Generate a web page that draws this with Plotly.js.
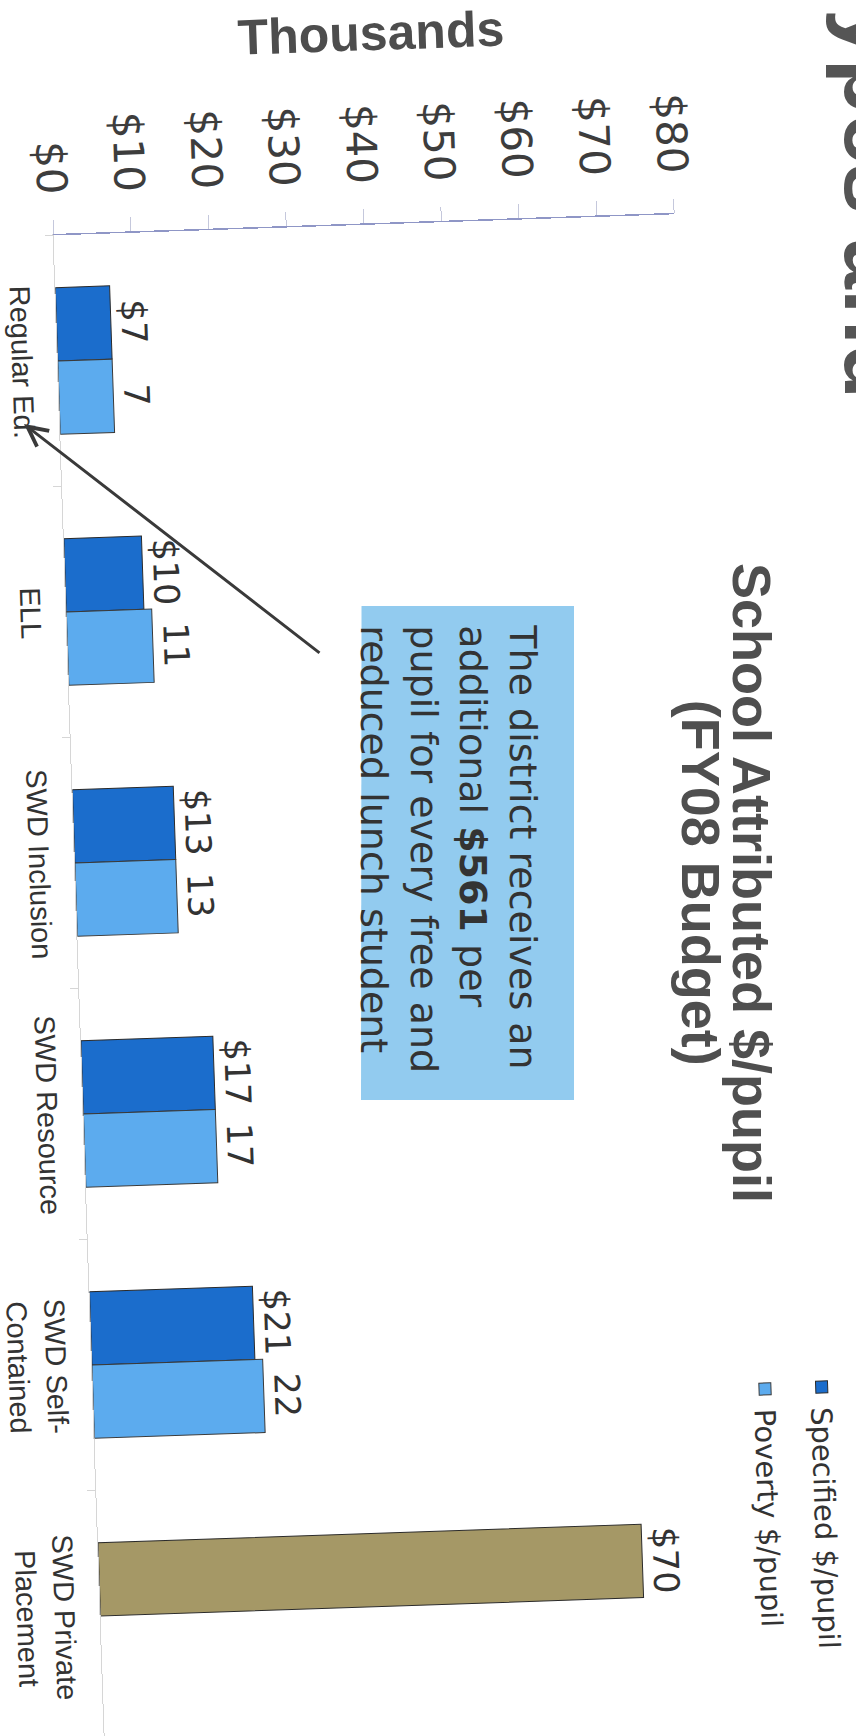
<!DOCTYPE html>
<html>
<head>
<meta charset="utf-8">
<script src="https://cdn.plot.ly/plotly-3.0.1.min.js"></script>
<style>
html, body { margin:0; padding:0; background:#ffffff; overflow:hidden; width:856px; height:1736px; }
#wrap { position:absolute; left:0; top:0; width:1800px; height:940px; transform-origin:0 0; }
</style>
</head>
<body>
<div id="wrap"><div id="chart" style="width:1800px;height:940px;"></div></div>
<script>
// ---- data ----
const categories = ['Regular Ed.', 'ELL', 'SWD Inclusion', 'SWD Resource', 'SWD Self-<br>Contained', 'SWD Private<br>Placement'];
const specified = [7, 10, 13, 17, 21, 70];
const poverty = [7, 11, 13, 17, 22, null];
const seriesNames = ['Specified $/pupil', 'Poverty $/pupil'];
const yTickVals = [0, 10, 20, 30, 40, 50, 60, 70, 80];
const yTickText = ['$0', '$10', '$20', '$30', '$40', '$50', '$60', '$70', '$80'];
const chartTitle = 'School Attributed $/pupil';
const chartSubtitle = '(FY08 Budget)';
const unitLabel = 'Thousands';
const noteText = 'The district receives an<br>additional <b>$561</b> per<br>pupil for every free and<br>reduced lunch student';
const slideTitle = 'Types and';

// ---- styles ----
const DARK = '#1b6dcc', LIGHT = '#5cabee', KHAKI = '#a59866';
const specColors = categories.map((c, i) => i === categories.length - 1 ? KHAKI : DARK);
const specLabels = specified.map(v => v == null ? '' : '$' + v);
const povLabels = poverty.map(v => v == null ? '' : String(v));
const UNTILT = 1.95; // slide objects were not skewed like the chart in the scan

const traces = [
  {
    type: 'bar', x: categories, y: specified, name: seriesNames[0], legendgroup: 'a',
    marker: { color: specColors, line: { color: '#2b2b2b', width: 1 } },
    text: specLabels, texttemplate: '%{text}', textposition: 'outside', textangle: 0, constraintext: 'none',
    cliponaxis: false, textfont: { family: 'DejaVu Sans', size: 35, color: '#333333' }
  },
  {
    type: 'bar', x: categories, y: poverty, name: seriesNames[1], legendgroup: 'b',
    marker: { color: LIGHT, line: { color: '#3a3a3a', width: 1 } },
    text: povLabels, texttemplate: '%{text}', textposition: 'outside', textangle: 0, constraintext: 'none',
    cliponaxis: false, textfont: { family: 'DejaVu Sans', size: 35, color: '#333333' }
  }
];

const layout = {
  width: 1800, height: 940, autosize: false,
  margin: { l: 260, r: 33, t: 199, b: 120, pad: 0 },
  paper_bgcolor: '#ffffff', plot_bgcolor: '#ffffff',
  font: { family: 'DejaVu Sans', color: '#333333' },
  barmode: 'group', bargap: 0.416, bargroupgap: 0,
  xaxis: {
    type: 'category', showline: true, linecolor: '#d6d6d6', linewidth: 1,
    ticks: 'outside', tickson: 'boundaries', ticklen: 8, tickcolor: '#d6d6d6',
    tickfont: { family: 'Liberation Sans', size: 29, color: '#333333' },
    ticklabelstandoff: 10, showgrid: false, zeroline: false, fixedrange: true
  },
  yaxis: {
    range: [0, 80], tickmode: 'array', tickvals: yTickVals, ticktext: yTickText,
    showline: true, linecolor: '#8f96c6', linewidth: 1.5,
    ticks: 'outside', ticklen: 14, tickcolor: '#c5c8dc', tickwidth: 1,
    tickfont: { family: 'DejaVu Sans', size: 42, color: '#3d3d3d' },
    ticklabelstandoff: 17, showgrid: false, zeroline: false, fixedrange: true
  },
  showlegend: true,
  legend: {
    x: 0.7678, xanchor: 'left', y: 1.127, yanchor: 'middle',
    font: { family: 'DejaVu Sans', size: 29, color: '#333333' },
    tracegroupgap: 16, bgcolor: 'rgba(0,0,0,0)', traceorder: 'grouped'
  },
  shapes: [
    { type: 'path', xref: 'paper', yref: 'paper',
      path: 'M 0.2527 0.4754 L 0.2575 0.8173 L 0.5851 0.7903 L 0.5803 0.4475 Z',
      fillcolor: '#92cbef', line: { width: 0 }, layer: 'below' }
  ],
  annotations: [
    { xref: 'paper', yref: 'paper', x: 0.4454, y: 1.0886, xanchor: 'center', yanchor: 'middle',
      text: '<b>' + chartTitle + '</b>', textangle: UNTILT, showarrow: false,
      font: { family: 'Liberation Sans', size: 54, color: '#4f4f4f' } },
    { xref: 'paper', yref: 'paper', x: 0.4441, y: 1.0065, xanchor: 'center', yanchor: 'middle',
      text: '<b>' + chartSubtitle + '</b>', textangle: UNTILT, showarrow: false,
      font: { family: 'Liberation Sans', size: 54, color: '#4f4f4f' } },
    { xref: 'paper', yref: 'paper', x: -0.1271, y: 0.522, xanchor: 'center', yanchor: 'middle',
      text: '<b>' + unitLabel + '</b>', textangle: -90, showarrow: false,
      font: { family: 'Liberation Sans', size: 50, color: '#4d4d4d' } },
    { xref: 'paper', yref: 'paper', x: 0.4155, y: 0.6024, xanchor: 'center', yanchor: 'middle',
      text: noteText, align: 'left', textangle: UNTILT, showarrow: false,
      font: { family: 'DejaVu Sans', size: 38, color: '#333333' } },
    { xref: 'paper', yref: 'paper', x: 0.1244, y: -0.0578, ax: 240, ay: -289,
      text: '', showarrow: true, arrowhead: 5, arrowsize: 1.3, arrowwidth: 3,
      arrowcolor: '#3a3a3a', standoff: 0 },
    { xref: 'paper', yref: 'paper', x: -0.0187, y: 1.3267, xanchor: 'center', yanchor: 'middle',
      text: '<b>' + slideTitle + '</b>', textangle: UNTILT, showarrow: false,
      font: { family: 'Liberation Sans', size: 90, color: '#555555' } }
  ]
};

Plotly.newPlot('chart', traces, layout, { staticPlot: true, displayModeBar: false }).then(function () {
  document.getElementById('wrap').style.transform = 'translate(864.2px, -52.3px) rotate(88.05deg)';
});
</script>
</body>
</html>
